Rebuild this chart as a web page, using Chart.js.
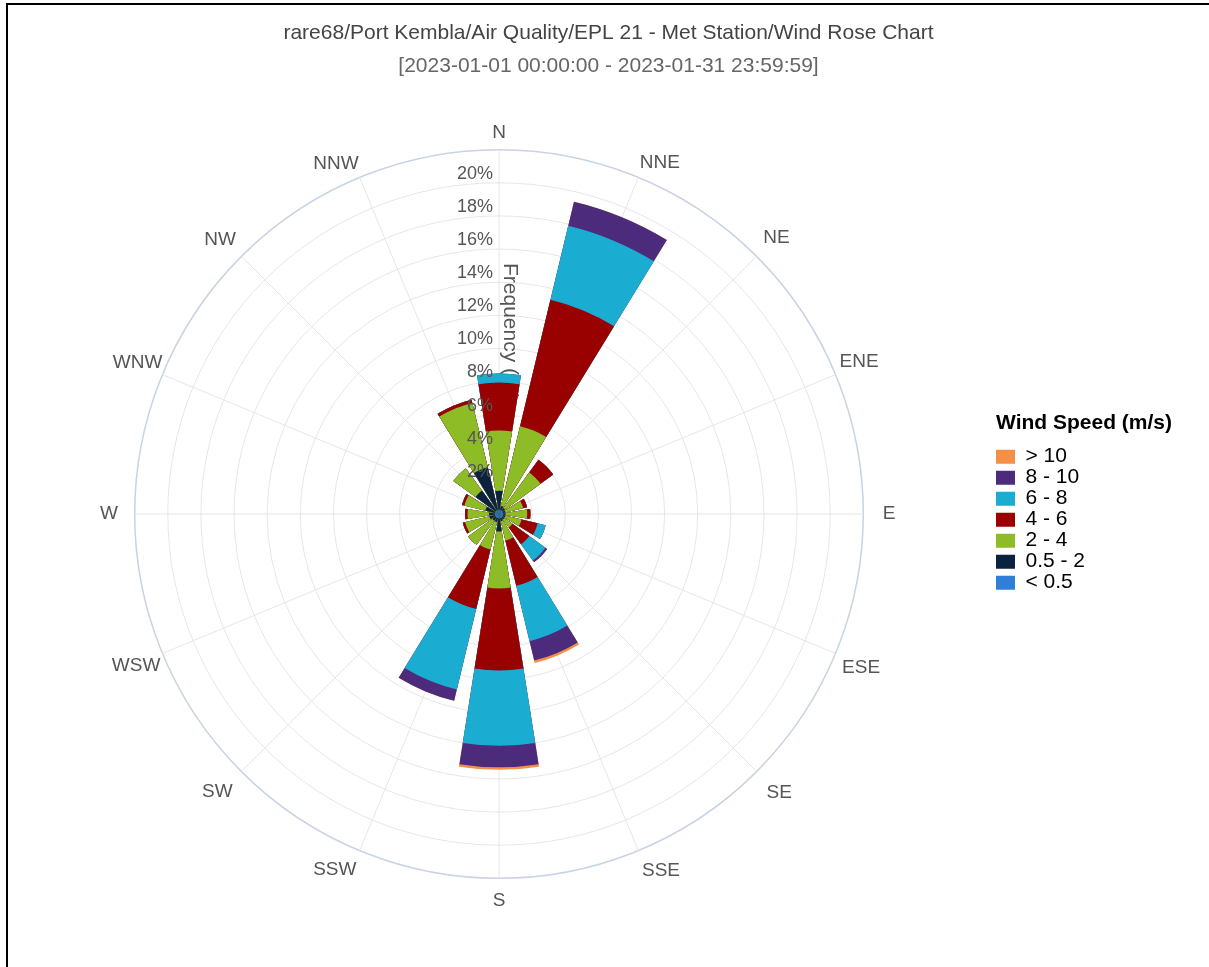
<!DOCTYPE html>
<html lang="en">
<head>
  <meta charset="UTF-8">
  <title>EPL 21 - Met Station | Wind Rose Chart</title>
  <script src="https://cdn.jsdelivr.net/npm/chart.js"></script>
  <style>
    body {
      margin: 0;
      background: #fff;
      overflow: hidden;
    }
    .frame {
      position: absolute;
      left: 6px;
      top: 3px;
      width: 1210px;
      height: 970px;
      border-left: 2px solid #000;
      border-top: 2px solid #000;
    }
    canvas {
      display: block;
    }
  </style>
</head>
<body>
  <div class="frame">
    <canvas id="windRose" width="1201" height="962"></canvas>
  </div>

  <script>
    // wind directions (clockwise from north)
    const directions = ['N', 'NNE', 'NE', 'ENE', 'E', 'ESE', 'SE', 'SSE',
                        'S', 'SSW', 'SW', 'WSW', 'W', 'WNW', 'NW', 'NNW'];

    // frequency (%) per direction for each wind speed band
    const speedUnder05 = [0.25, 0.25, 0.25, 0.25, 0.25, 0.25, 0.25, 0.25, 0.25, 0.25, 0.25, 0.25, 0.25, 0.25, 0.25, 0.25];
    const speed05to2   = [1.15, 0.25, 0.2, 0.15, 0.15, 0.15, 0.15, 0.2, 0.8, 0.25, 0.25, 0.35, 0.35, 0.6, 1.5, 2.65];
    const speed2to4    = [3.65, 4.95, 2.65, 1.1, 1.3, 1.0, 0.6, 1.2, 3.45, 1.7, 1.8, 1.5, 1.3, 1.3, 1.65, 4.0];
    const speed4to6    = [2.89, 7.85, 0.95, 0.25, 0.2, 1.0, 1.26, 2.81, 4.95, 3.7, 0, 0.15, 0.15, 0.15, 0, 0.2];
    const speed6to8    = [0.54, 4.6, 0, 0, 0, 0.5, 1.21, 3.44, 4.55, 5.0, 0, 0, 0, 0, 0, 0];
    const speed8to10   = [0, 1.5, 0, 0, 0, 0, 0.13, 1.2, 1.3, 0.7, 0, 0, 0, 0, 0, 0];
    const speedOver10  = [0, 0, 0, 0, 0, 0, 0, 0.15, 0.15, 0, 0, 0, 0, 0, 0, 0];

    const speedLabels = ['< 0.5', '0.5 - 2', '2 - 4', '4 - 6', '6 - 8', '8 - 10', '> 10'];
    const speedColors = ['#2f7fd8', '#0c2340', '#8dbc26', '#990000', '#1aadd1', '#4c2a7c', '#f58f45'];

    // radial axis
    const radialTicks = [2, 4, 6, 8, 10, 12, 14, 16, 18, 20];
    const radialMax = 22;

    const BAR_DEG = 18;
    const GAP_DEG = 4.5;
    const LEGEND_WIDTH = 219;
    const LEGEND_SHIFT = 6;
    const LABEL_SIZE = 19;
    const PLOT_RADIUS = 363.2; // expected drawing area (px)
    const FONT = '"Liberation Sans", Arial, sans-serif';

    const bands = [speedUnder05, speed05to2, speed2to4, speed4to6, speed6to8, speed8to10, speedOver10];

    // polarArea has no stacking: draw cumulative totals, smallest on top
    let running = directions.map(() => 0);
    const cumulative = bands.map(band => {
      running = running.map((v, i) => v + band[i]);
      return running.slice();
    });

    // 32 slots: [half gap, N, gap, NNE, gap, ... , NNW]
    function toSlots(values) {
      const out = [0];
      values.forEach((v, k) => {
        out.push(v);
        if (k < values.length - 1) out.push(0);
      });
      return out;
    }
    const slotLabels = [];
    directions.forEach(d => slotLabels.push('', d));

    const slotAngle = ctx => {
      if (ctx.dataIndex === 0) return GAP_DEG / 2;
      return ctx.dataIndex % 2 === 1 ? BAR_DEG : GAP_DEG;
    };

    const datasets = cumulative.map((vals, i) => ({
      label: speedLabels[i],
      data: toSlots(vals),
      backgroundColor: speedColors[i],
      borderWidth: 0,
      angle: slotAngle
    }));

    // compass labels sit on a ring (text centres), not edge-anchored
    const measureCtx = document.createElement('canvas').getContext('2d');
    measureCtx.font = LABEL_SIZE + 'px ' + FONT;

    function labelRing(deg) {
      const t = deg * Math.PI / 180;
      return 383 - 3 * Math.cos(t) + 6 * Math.abs(Math.sin(t)) + 5 * Math.pow(Math.sin(2 * t), 2);
    }

    function labelPadding(ctx) {
      const text = slotLabels[ctx.index];
      if (!text) return 5;
      const deg = ((ctx.index * 11.25 - 11.25) % 360 + 360) % 360;
      const t = deg * Math.PI / 180;
      const w = measureCtx.measureText(text).width;
      const h = LABEL_SIZE * 1.2;
      const ox = (deg === 0 || deg === 180) ? 0 : (deg < 180 ? w / 2 : -w / 2);
      const oy = (deg === 90 || deg === 270) ? 0 : ((deg < 90 || deg > 270) ? -h / 2 : h / 2);
      const ou = ox * Math.sin(t) - oy * Math.cos(t);
      const ring = labelRing(deg);
      const d = -ou + Math.sqrt(ring * ring - (ox * ox + oy * oy) + ou * ou);
      return Math.max(0, d - PLOT_RADIUS);
    }

    // axis title under the bars, tick labels on top of them
    const radialText = {
      id: 'radialText',
      beforeDatasetsDraw(chart) {
        const r = chart.scales.r;
        const ctx = chart.ctx;
        ctx.save();
        ctx.translate(r.xCenter + 11, r.yCenter - r.drawingArea / 2);
        ctx.rotate(Math.PI / 2);
        ctx.font = '21px ' + FONT;
        ctx.fillStyle = '#555';
        ctx.textAlign = 'center';
        ctx.textBaseline = 'middle';
        ctx.fillText('Frequency (%)', 0, 0);
        ctx.restore();
      },
      afterDatasetsDraw(chart) {
        const r = chart.scales.r;
        const ctx = chart.ctx;
        ctx.save();
        ctx.font = '18px ' + FONT;
        ctx.fillStyle = '#555';
        ctx.textAlign = 'right';
        ctx.textBaseline = 'middle';
        radialTicks.forEach(v => {
          const y = r.yCenter - r.getDistanceFromCenterForValue(v) - 9;
          ctx.fillText(v + '%', r.xCenter - 6, y);
        });
        ctx.restore();
      }
    };

    // legend width ignores its title, so fix it; then nudge its content right
    const legendWidth = {
      id: 'legendWidth',
      beforeLayout(chart) {
        const legend = chart.legend;
        if (legend && !legend.fitPatched) {
          const fit = legend.fit;
          legend.fit = function () {
            fit.call(this);
            this.width = LEGEND_WIDTH;
          };
          legend.fitPatched = true;
        }
      },
      afterLayout(chart) {
        const legend = chart.legend;
        if (legend) {
          legend.left += LEGEND_SHIFT;
          legend.width -= LEGEND_SHIFT;
        }
      }
    };

    Chart.defaults.font.family = FONT;

    new Chart(document.getElementById('windRose'), {
      type: 'polarArea',
      data: {
        labels: slotLabels,
        datasets: datasets
      },
      options: {
        responsive: false,
        animation: false,
        layout: {
          padding: { left: 0, right: 0, top: 0, bottom: 51.5 }
        },
        scales: {
          r: {
            min: 0,
            max: radialMax,
            startAngle: -11.25,
            ticks: { display: false, stepSize: 2 },
            grid: {
              circular: true,
              color: ctx => ctx.tick && ctx.tick.value === radialMax ? '#c9d3e2' : '#e6e6e6',
              lineWidth: ctx => ctx.tick && ctx.tick.value === radialMax ? 1.5 : 1
            },
            angleLines: {
              display: true,
              color: '#e6e6e6',
              lineWidth: ctx => ctx.index % 2 === 1 ? 1 : 0
            },
            pointLabels: {
              display: true,
              padding: labelPadding,
              color: '#555',
              font: { size: LABEL_SIZE }
            }
          }
        },
        plugins: {
          title: {
            display: true,
            text: 'rare68/Port Kembla/Air Quality/EPL 21 - Met Station/Wind Rose Chart',
            color: '#444',
            font: { size: 21, weight: 'normal' },
            padding: { top: 16, bottom: 6 }
          },
          subtitle: {
            display: true,
            text: '[2023-01-01 00:00:00 - 2023-01-31 23:59:59]',
            color: '#666',
            font: { size: 21 },
            padding: { top: 1, bottom: 41.7 }
          },
          legend: {
            position: 'right',
            align: 'start',
            reverse: true,
            title: {
              display: true,
              text: 'Wind Speed (m/s)',
              position: 'start',
              color: '#000',
              font: { size: 21, weight: 'bold' },
              padding: { top: 408, bottom: 8 }
            },
            labels: {
              boxWidth: 19,
              boxHeight: 14,
              padding: 0,
              color: '#222',
              font: { size: 21 },
              generateLabels: chart => chart.data.datasets.map((ds, i) => ({
                text: ds.label,
                fillStyle: ds.backgroundColor,
                strokeStyle: ds.backgroundColor,
                lineWidth: 0,
                hidden: false,
                datasetIndex: i
              }))
            }
          },
          tooltip: { enabled: false }
        }
      },
      plugins: [radialText, legendWidth]
    });
  </script>
</body>
</html>
